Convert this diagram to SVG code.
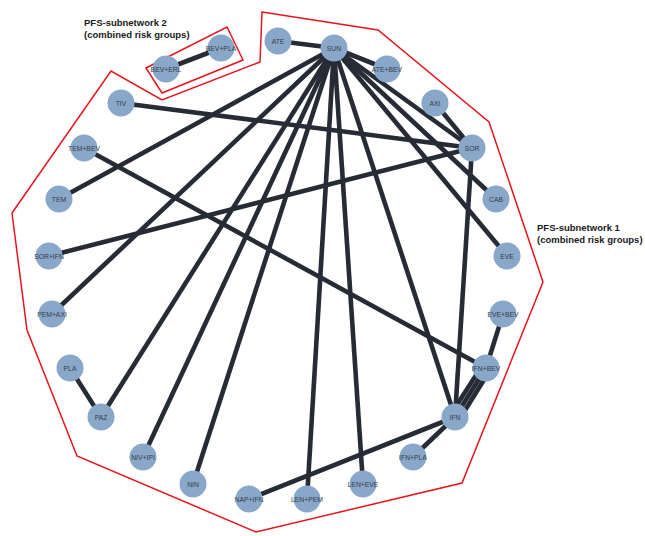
<svg xmlns="http://www.w3.org/2000/svg" width="645" height="536" viewBox="0 0 645 536">
<style>
.bg{fill:#ffffff}
.hull{fill:none;stroke:#e8141c;stroke-width:1.5;stroke-linejoin:miter}
.e{stroke:#262b35;stroke-width:4.6;fill:none}
.n circle{fill:#88a7c9}
.n text{font-family:"Liberation Sans",Arial,sans-serif;font-size:6.8px;fill:#373d48;text-anchor:middle;dominant-baseline:central}
.lbl{font-family:"Liberation Sans",Arial,sans-serif;font-size:9.5px;font-weight:bold;fill:#1a1a1a}
</style>
<rect class="bg" x="0" y="0" width="645" height="536"/>
<g id="hulls">
<polygon class="hull" points="262,12 378,30 489,122 543,282 462,483 256,532 77,456 27,330 12,213 111,71 162,100 260,62"/>
<polygon class="hull" points="146,68 227,27 243,60 162,93"/>
</g>
<g id="labels">
<text class="lbl" x="84" y="26">PFS-subnetwork 2</text>
<text class="lbl" x="84" y="37.5">(combined risk groups)</text>
<text class="lbl" x="537" y="230.5">PFS-subnetwork 1</text>
<text class="lbl" x="537" y="242.5">(combined risk groups)</text>
</g>
<g id="edges">
<line class="e" x1="334" y1="48" x2="278" y2="41"/>
<line class="e" x1="334" y1="48" x2="387" y2="69"/>
<line class="e" x1="334" y1="48" x2="472" y2="148"/>
<line class="e" x1="334" y1="48" x2="496" y2="199"/>
<line class="e" x1="334" y1="48" x2="507" y2="256"/>
<line class="e" x1="334" y1="48" x2="455" y2="417"/>
<line class="e" x1="334" y1="48" x2="363" y2="484"/>
<line class="e" x1="334" y1="48" x2="307" y2="499"/>
<line class="e" x1="334" y1="48" x2="193" y2="484"/>
<line class="e" x1="334" y1="48" x2="143" y2="457"/>
<line class="e" x1="334" y1="48" x2="101" y2="417"/>
<line class="e" x1="334" y1="48" x2="52" y2="314"/>
<line class="e" x1="334" y1="48" x2="59" y2="199"/>
<line class="e" x1="435" y1="103" x2="472" y2="148"/>
<line class="e" x1="121" y1="103" x2="472" y2="148"/>
<line class="e" x1="49" y1="256" x2="472" y2="148"/>
<line class="e" x1="472" y1="148" x2="455" y2="417"/>
<line class="e" x1="84" y1="148" x2="486" y2="368"/>
<line class="e" x1="503" y1="314" x2="486" y2="368"/>
<line class="e" x1="451" y1="414" x2="482" y2="366"/>
<line class="e" x1="455" y1="417" x2="486" y2="368"/>
<line class="e" x1="459" y1="420" x2="490" y2="370"/>
<line class="e" x1="455" y1="417" x2="413" y2="457"/>
<line class="e" x1="455" y1="417" x2="249" y2="499"/>
<line class="e" x1="70" y1="368" x2="101" y2="417"/>
<line class="e" x1="166" y1="69" x2="221" y2="48"/>
</g>
<g id="n-SUN" class="n"><circle cx="334" cy="48" r="13.5"/><text x="334" y="48">SUN</text></g>
<g id="n-ATE" class="n"><circle cx="278" cy="41" r="13.5"/><text x="278" y="41">ATE</text></g>
<g id="n-ATE_BEV" class="n"><circle cx="387" cy="69" r="13.5"/><text x="387" y="69">ATE+BEV</text></g>
<g id="n-AXI" class="n"><circle cx="435" cy="103" r="13.5"/><text x="435" y="103">AXI</text></g>
<g id="n-SOR" class="n"><circle cx="472" cy="148" r="13.5"/><text x="472" y="148">SOR</text></g>
<g id="n-CAB" class="n"><circle cx="496" cy="199" r="13.5"/><text x="496" y="199">CAB</text></g>
<g id="n-EVE" class="n"><circle cx="507" cy="256" r="13.5"/><text x="507" y="256">EVE</text></g>
<g id="n-EVE_BEV" class="n"><circle cx="503" cy="314" r="13.5"/><text x="503" y="314">EVE+BEV</text></g>
<g id="n-IFN_BEV" class="n"><circle cx="486" cy="368" r="13.5"/><text x="486" y="368">IFN+BEV</text></g>
<g id="n-IFN" class="n"><circle cx="455" cy="417" r="13.5"/><text x="455" y="417">IFN</text></g>
<g id="n-IFN_PLA" class="n"><circle cx="413" cy="457" r="13.5"/><text x="413" y="457">IFN+PLA</text></g>
<g id="n-LEN_EVE" class="n"><circle cx="363" cy="484" r="13.5"/><text x="363" y="484">LEN+EVE</text></g>
<g id="n-LEN_PEM" class="n"><circle cx="307" cy="499" r="13.5"/><text x="307" y="499">LEN+PEM</text></g>
<g id="n-NAP_IFN" class="n"><circle cx="249" cy="499" r="13.5"/><text x="249" y="499">NAP+IFN</text></g>
<g id="n-NIN" class="n"><circle cx="193" cy="484" r="13.5"/><text x="193" y="484">NIN</text></g>
<g id="n-NIV_IPI" class="n"><circle cx="143" cy="457" r="13.5"/><text x="143" y="457">NIV+IPI</text></g>
<g id="n-PAZ" class="n"><circle cx="101" cy="417" r="13.5"/><text x="101" y="417">PAZ</text></g>
<g id="n-PLA" class="n"><circle cx="70" cy="368" r="13.5"/><text x="70" y="368">PLA</text></g>
<g id="n-PEM_AXI" class="n"><circle cx="52" cy="314" r="13.5"/><text x="52" y="314">PEM+AXI</text></g>
<g id="n-SOR_IFN" class="n"><circle cx="49" cy="256" r="13.5"/><text x="49" y="256">SOR+IFN</text></g>
<g id="n-TEM" class="n"><circle cx="59" cy="199" r="13.5"/><text x="59" y="199">TEM</text></g>
<g id="n-TEM_BEV" class="n"><circle cx="84" cy="148" r="13.5"/><text x="84" y="148">TEM+BEV</text></g>
<g id="n-TIV" class="n"><circle cx="121" cy="103" r="13.5"/><text x="121" y="103">TIV</text></g>
<g id="n-BEV_ERL" class="n"><circle cx="166" cy="69" r="13.5"/><text x="166" y="69">BEV+ERL</text></g>
<g id="n-BEV_PLA" class="n"><circle cx="221" cy="48" r="13.5"/><text x="221" y="48">BEV+PLA</text></g>
</svg>
